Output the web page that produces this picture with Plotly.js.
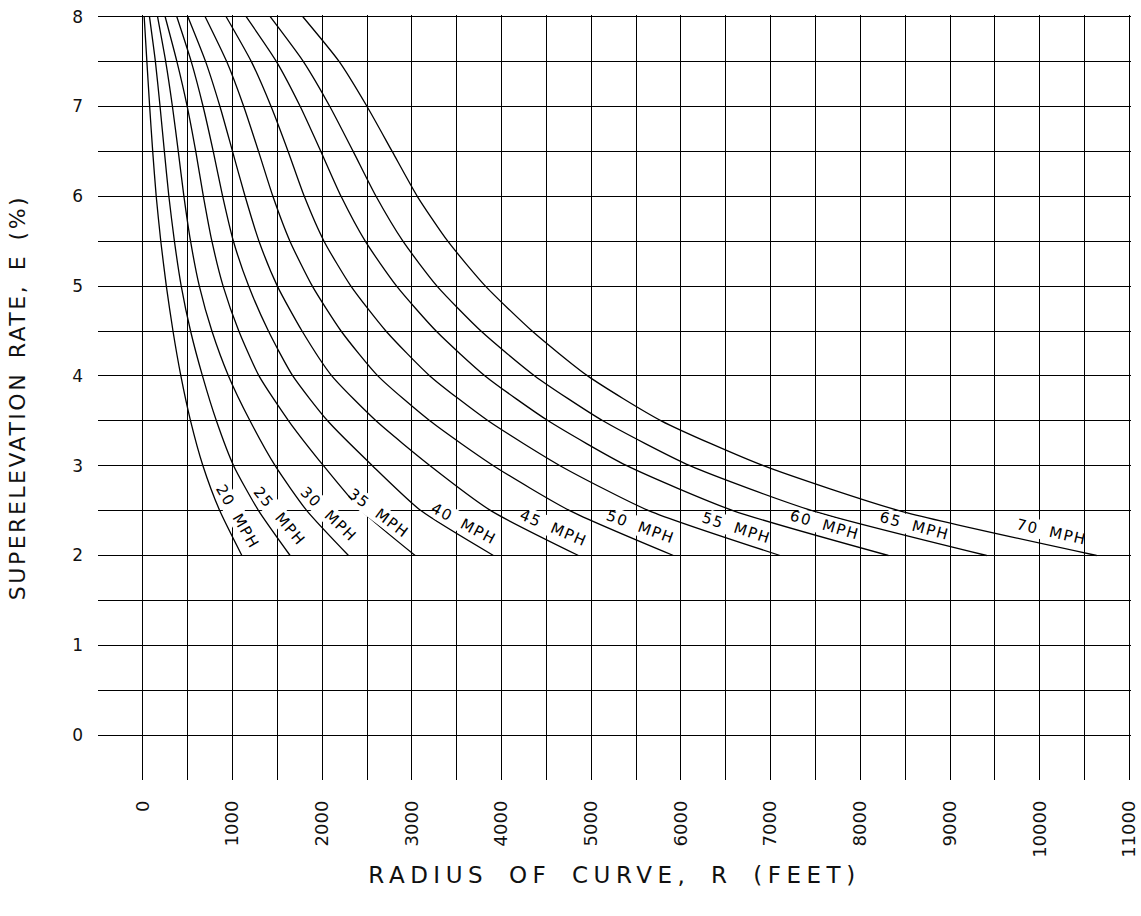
<!DOCTYPE html>
<html>
<head>
<meta charset="utf-8">
<script src="https://cdn.plot.ly/plotly-3.0.1.min.js"></script>
<style>
html, body { margin: 0; padding: 0; background: #fff; }
#chart .xtitle { letter-spacing: 5.5px; word-spacing: 8px; }
#chart .ytitle { letter-spacing: 2.5px; word-spacing: 4px; }
#chart .annotation-text { letter-spacing: 1.5px; word-spacing: 5px; }
</style>
</head>
<body>
<div id="chart" style="width:1141px;height:916px;"></div>
<script>
// Superelevation rate e (%) at which each curve's radius was read
const superelevation = [8, 7.5, 7, 6.5, 6, 5.5, 5, 4.5, 4, 3.5, 3, 2.5, 2];

// Design speeds (mph)
const speeds = [20, 25, 30, 35, 40, 45, 50, 55, 60, 65, 70];

// Radius of curve R (feet) for each design speed, at the e values above
const radius20 = [15, 45, 76, 110, 149, 200, 262, 336, 424, 532, 670, 857, 1104];
const radius25 = [74, 140, 192, 240, 290, 352, 428, 532, 665, 820, 1012, 1290, 1642];
const radius30 = [164, 255, 330, 395, 458, 532, 630, 770, 955, 1195, 1475, 1828, 2293];
const radius35 = [249, 380, 495, 590, 675, 770, 895, 1070, 1295, 1625, 2014, 2440, 3036];
const radius40 = [379, 540, 672, 785, 890, 1010, 1180, 1400, 1672, 2060, 2560, 3100, 3909];
const radius45 = [502, 700, 860, 1000, 1140, 1295, 1500, 1775, 2107, 2600, 3203, 3880, 4857];
const radius50 = [695, 935, 1125, 1290, 1450, 1640, 1890, 2210, 2620, 3200, 3909, 4760, 5916];
const radius55 = [929, 1210, 1430, 1620, 1800, 2020, 2320, 2710, 3200, 3850, 4652, 5640, 7105];
const radius60 = [1152, 1490, 1755, 1985, 2210, 2480, 2830, 3270, 3816, 4520, 5396, 6580, 8313];
const radius65 = [1420, 1790, 2085, 2345, 2600, 2900, 3280, 3770, 4370, 5130, 6100, 7460, 9409];
const radius70 = [1784, 2190, 2500, 2780, 3060, 3400, 3820, 4340, 4960, 5780, 6919, 8430, 10635];

const radii = [radius20, radius25, radius30, radius35, radius40, radius45,
               radius50, radius55, radius60, radius65, radius70];

// Speed label anchor points (data coordinates) and text angles
const labelR = [1057, 1519, 2066, 2623, 3580, 4575, 5550, 6620, 7600, 8605, 10130];
const labelE = [2.43, 2.44, 2.46, 2.47, 2.35, 2.31, 2.32, 2.31, 2.335, 2.333, 2.26];
const labelAngle = [60, 50, 44, 37, 28, 23, 20, 18, 16, 15, 13];

// Axis ticks
const xTickValues = [0, 500, 1000, 1500, 2000, 2500, 3000, 3500, 4000, 4500, 5000, 5500,
                     6000, 6500, 7000, 7500, 8000, 8500, 9000, 9500, 10000, 10500, 11000];
const xTickText = ['0', '', '1000', '', '2000', '', '3000', '', '4000', '', '5000', '',
                   '6000', '', '7000', '', '8000', '', '9000', '', '10000', '', '11000'];
const yTickValues = [0, 0.5, 1, 1.5, 2, 2.5, 3, 3.5, 4, 4.5, 5, 5.5, 6, 6.5, 7, 7.5, 8];
const yTickText = ['0', '', '1', '', '2', '', '3', '', '4', '', '5', '', '6', '', '7', '', '8'];

const FONT = 'DejaVu Sans, sans-serif';

const traces = speeds.map((v, i) => ({
  type: 'scatter',
  mode: 'lines',
  name: v + ' MPH',
  x: radii[i],
  y: superelevation,
  line: { color: '#000', width: 1.3, shape: 'spline', smoothing: 0.6 },
  hoverinfo: 'x+y+name'
}));

const annotations = speeds.map((v, i) => ({
  x: labelR[i], y: labelE[i], xref: 'x', yref: 'y',
  text: v + ' MPH',
  textangle: labelAngle[i],
  showarrow: false,
  bgcolor: '#ffffff',
  borderpad: 0,
  font: { family: FONT, size: 15, color: '#000' }
}));

const layout = {
  width: 1141,
  height: 916,
  margin: { l: 98, r: 10, t: 15, b: 136 },
  paper_bgcolor: '#fff',
  plot_bgcolor: '#fff',
  showlegend: false,
  font: { family: FONT, color: '#111' },
  xaxis: {
    range: [-500, 11018],
    tickmode: 'array',
    tickvals: xTickValues,
    ticktext: xTickText,
    tickangle: -90,
    ticks: '',
    ticklabelstandoff: 16,
    tickfont: { family: FONT, size: 18, color: '#111' },
    showgrid: true,
    gridcolor: '#000',
    gridwidth: 1,
    zeroline: false,
    showline: false,
    title: { text: 'RADIUS OF CURVE, R (FEET)', standoff: 10,
             font: { family: FONT, size: 23, color: '#111' } }
  },
  yaxis: {
    range: [-0.5, 8.019],
    tickmode: 'array',
    tickvals: yTickValues,
    ticktext: yTickText,
    ticks: '',
    ticklabelstandoff: 14,
    tickfont: { family: FONT, size: 17, color: '#111' },
    showgrid: true,
    gridcolor: '#000',
    gridwidth: 1,
    zeroline: false,
    showline: false,
    title: { text: 'SUPERELEVATION RATE, E (%)', standoff: 40,
             font: { family: FONT, size: 22, color: '#111' } }
  },
  annotations: annotations
};

Plotly.newPlot('chart', traces, layout, { displayModeBar: false, staticPlot: true });
</script>
</body>
</html>
